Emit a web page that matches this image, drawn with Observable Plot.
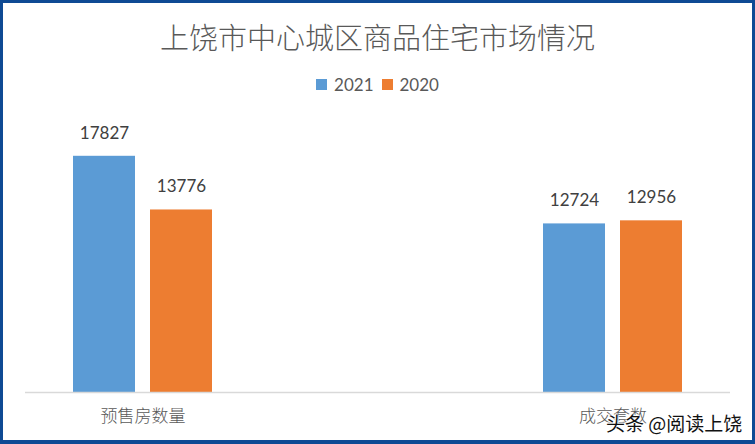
<!DOCTYPE html>
<html>
<head>
<meta charset="utf-8">
<script src="https://cdn.jsdelivr.net/npm/d3@7"></script>
<script src="https://cdn.jsdelivr.net/npm/@observablehq/plot@0.6"></script>
<style>
  html, body { margin: 0; padding: 0; background: #fff; }
  #frame { position: absolute; left: 0; top: 0; width: 755px; height: 444px; box-sizing: border-box;
           border: 3px solid #0E4A94; border-bottom-width: 4px; pointer-events: none; z-index: 5; }
  #title { position: absolute; left: 0; top: 15px; width: 755px; text-align: center;
           font-family: "Noto Sans CJK SC", sans-serif; font-weight: 300; font-size: 29px; color: #595959; }
  #legend { position: absolute; left: 0; top: 74px; width: 755px; display: flex; justify-content: center;
            align-items: center; font-family: Lato, sans-serif; font-size: 17px; color: #595959; }
  #legend .item { display: flex; align-items: center; margin: 0 4px; }
  #legend .sw { width: 11px; height: 11px; margin-right: 7px; }
  #chart { position: absolute; left: 0; top: 100px; }
  #wm { position: absolute; left: 606px; top: 409px; font-family: "Noto Sans CJK SC", sans-serif;
        font-size: 19px; color: #111; z-index: 6;
        text-shadow: 0 0 2px #fff, 0 0 2px #fff, 1px 1px 1px #fff, -1px -1px 1px #fff; }
</style>
</head>
<body>
<div id="title">上饶市中心城区商品住宅市场情况</div>
<div id="legend"></div>
<div id="chart"></div>
<div id="wm">头条 @阅读上饶</div>
<div id="frame"></div>
<script>
const categories = ["预售房数量", "成交套数"];
const years = ["2021", "2020"];
const values2021 = [17827, 12724];
const values2020 = [13776, 12956];
const colors = ["#5B9BD5", "#ED7D31"];
const categorySlots = [categories[0], " ", categories[1]];

const seriesValues = [values2021, values2020];
const data = [];
categories.forEach((c, i) => {
  years.forEach((y, j) => data.push({category: c, year: y, value: seriesValues[j][i]}));
});

const legend = document.getElementById("legend");
years.forEach((y, j) => {
  const item = document.createElement("div");
  item.className = "item";
  item.innerHTML = `<span class="sw" style="background:${colors[j]}"></span><span>${y}</span>`;
  legend.appendChild(item);
});

const chart = Plot.plot({
  width: 755,
  height: 344,
  marginLeft: 24,
  marginRight: 25,
  marginTop: 27,
  marginBottom: 52,
  style: {fontFamily: "Lato, sans-serif", background: "transparent"},
  fx: {domain: categorySlots, padding: 0, label: null, axis: null},
  x: {domain: years, paddingInner: 0.1923, paddingOuter: 0.6026, axis: null},
  y: {domain: [0, 20000], axis: null},
  color: {domain: years, range: colors},
  marks: [
    Plot.barY(data, {fx: "category", x: "year", y: "value", fill: "year"}),
    Plot.text(data, {fx: "category", x: "year", y: "value", text: d => String(d.value),
      dy: -23, fontSize: 17, fill: "#404040"}),
    Plot.ruleY(categorySlots, {fx: d => d, y: 0, stroke: "#D9D9D9", strokeWidth: 1.5}),
    Plot.axisFx({domain: categorySlots, anchor: "bottom", tickSize: 0, tickPadding: 17,
      fontSize: 17, fill: "#595959", label: null,
      fontFamily: "Noto Sans CJK SC, sans-serif", fontWeight: 300})
  ]
});
document.getElementById("chart").appendChild(chart);
</script>
</body>
</html>
